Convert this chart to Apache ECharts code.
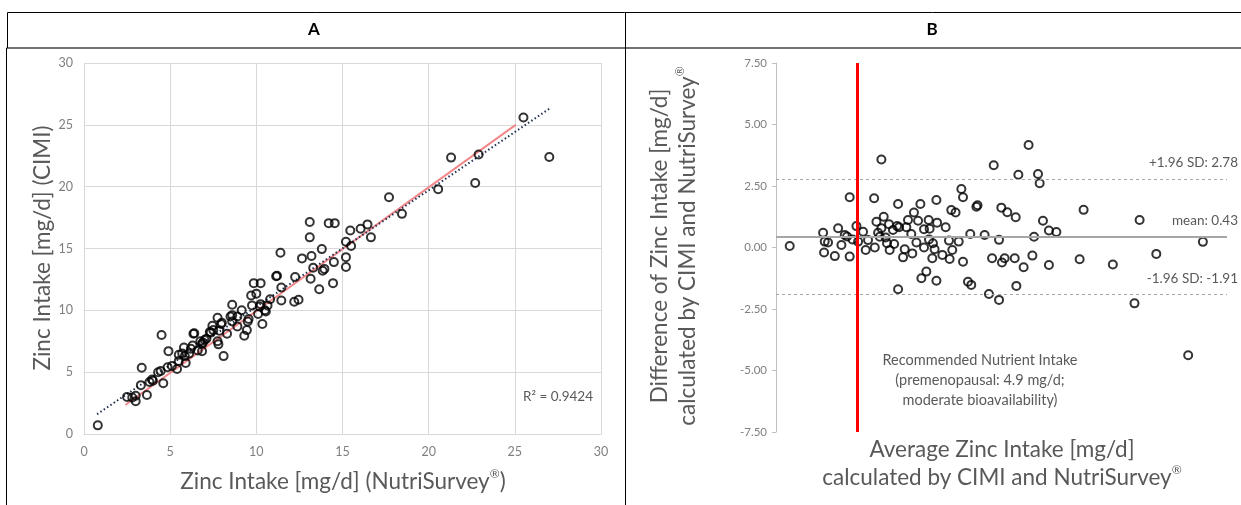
<!DOCTYPE html>
<html>
<head>
<meta charset="utf-8">
<script src="https://cdn.jsdelivr.net/npm/echarts@6/dist/echarts.min.js"></script>
<style>
  html, body { margin: 0; padding: 0; background: #fff; }
  #chart { width: 1241px; height: 505px; }
</style>
</head>
<body>
<div id="chart"></div>
<script>
// Panel A: zinc intake NutriSurvey (x) vs CIMI (y), mg/d
const nutriA = [0.8, 2.5, 2.8, 3.0, 3.0, 3.3, 3.35, 3.65, 3.8, 3.95, 4.0, 4.3, 4.45, 4.5, 4.6, 4.85, 4.9, 5.1, 5.4, 5.5,
  5.5, 5.7, 5.8, 5.85, 5.9, 6.1, 6.2, 6.3, 6.35, 6.4, 6.6, 6.75, 6.85, 6.85, 6.9, 7.0, 7.1, 7.3, 7.35, 7.45,
  7.5, 7.75, 7.75, 7.8, 7.85, 7.95, 8.0, 8.1, 8.3, 8.5, 8.6, 8.6, 8.6, 8.9, 8.9, 9.15, 9.3, 9.45, 9.5, 9.55,
  9.7, 9.75, 9.85, 10.0, 10.1, 10.2, 10.25, 10.25, 10.35, 10.5, 10.55, 10.65, 10.8, 11.15, 11.2, 11.4, 11.45, 11.45, 12.2, 12.45,
  12.25, 12.65, 13.1, 13.1, 13.15, 13.2, 13.3, 13.65, 13.8, 13.85, 13.95, 14.2, 14.45, 14.5, 14.55, 15.2, 15.2, 15.2, 15.45, 15.5,
  16.05, 16.45, 16.65, 17.7, 18.45, 20.55, 21.3, 22.7, 22.9, 25.5, 27.0];
const cimiA = [0.7, 3.0, 2.95, 2.65, 3.1, 3.95, 5.35, 3.15, 4.2, 4.4, 4.3, 5.0, 5.1, 8.0, 4.1, 5.4, 6.7, 5.5, 5.25, 6.4,
  5.9, 6.5, 7.0, 6.3, 5.75, 6.5, 6.9, 7.15, 8.1, 8.15, 6.75, 7.5, 7.3, 6.7, 7.4, 7.6, 7.7, 8.25, 8.2, 8.75,
  8.4, 9.4, 7.5, 7.25, 8.35, 8.9, 9.0, 6.3, 8.1, 9.5, 10.45, 9.1, 9.6, 8.7, 9.5, 10.0, 7.95, 8.4, 9.1, 9.3,
  11.2, 10.4, 12.2, 11.35, 9.7, 10.3, 12.2, 10.5, 8.9, 10.0, 9.9, 10.4, 10.9, 12.75, 12.8, 14.65, 11.85, 10.8, 10.7, 10.85,
  12.7, 14.2, 17.15, 15.9, 12.55, 14.4, 13.45, 11.7, 14.95, 13.2, 13.35, 17.05, 12.2, 13.9, 17.05, 13.5, 14.3, 15.55, 16.45, 15.2,
  16.6, 16.95, 15.9, 19.15, 17.8, 19.8, 22.35, 20.3, 22.6, 25.6, 22.4];
// trend lines (end points)
const fitLineA = [[0.76, 1.6], [27.0, 26.3]];
const redLineA = [[2.4, 2.35], [25.05, 25.0]];
const r2Text = 'R\u00b2 = 0.9424';

// Panel B: Bland-Altman, average (x) vs difference (y)
const avgB = [0.83, 2.85, 2.95, 3.15, 2.91, 3.56, 3.76, 3.96, 4.16, 4.3, 4.46, 4.46, 4.63, 4.87, 4.97, 5.27, 5.43, 5.57, 5.94, 5.98,
  6.08, 6.18, 6.28, 6.38, 6.38, 6.52, 6.64, 6.72, 6.84, 6.88, 7.08, 7.15, 7.33, 7.39, 7.45, 7.39, 7.79, 7.69, 7.89, 7.99,
  8.19, 8.25, 8.35, 8.5, 8.6, 8.74, 8.8, 9.1, 8.96, 8.96, 9.24, 9.3, 9.26, 9.5, 9.46, 9.6, 9.71, 9.71, 9.75, 10.07,
  10.27, 10.47, 10.51, 10.67, 10.61, 10.87, 11.06, 11.22, 11.32, 11.32, 11.62, 11.82, 11.76, 12.13, 12.2, 12.63, 13.18, 12.89, 13.08, 13.5,
  13.5, 13.64, 13.68, 13.84, 14.0, 14.45, 14.51, 14.55, 14.67, 14.99, 15.29, 15.52, 15.62, 15.86, 15.96, 16.16, 16.52, 16.52, 16.97, 18.38,
  18.62, 20.39, 21.7, 22.01, 23.02, 24.95, 25.84];
const diffB = [0.06, 0.6, 0.24, 0.2, -0.2, -0.35, 0.78, 0.1, 0.51, 0.45, 2.04, -0.37, 0.33, 0.87, 0.24, 0.64, -0.1, 0.3, 2.0, 0.0,
  1.05, 0.6, 0.44, 3.58, 0.78, 1.25, 0.41, 0.17, 0.95, -0.1, 0.71, 0.14, 0.87, 1.77, 0.82, -1.7, -0.07, -0.4, 0.82, 1.12,
  0.55, -0.24, 1.42, 0.2, 1.09, 1.77, -1.25, -0.98, 0.0, 0.74, 1.12, 0.76, 0.33, 0.17, -0.44, -0.07, 1.93, -1.35, 1.01, -0.3,
  0.82, 0.28, -0.47, -0.1, 1.52, 1.42, 0.24, 2.38, 2.04, -0.58, -1.39, -1.52, 0.55, 1.66, 1.72, 0.51, 3.34, -1.89, -0.44, 0.31,
  -2.13, 1.62, -0.61, -0.44, 1.43, -0.44, 1.23, -1.56, 2.96, -0.8, 4.17, -0.33, 0.44, 2.99, 2.61, 1.09, 0.69, -0.71, 0.63, -0.48,
  1.53, -0.69, -2.27, 1.12, -0.26, -4.38, 0.23];
const meanDiff = 0.43;
const upperLoA = 2.78;
const lowerLoA = -1.91;
const rniValue = 4.9;
const avgMaxB = 27.3;

const FONT = 'Lato';
const GRAY_TXT = '#595959';
const TICK_TXT = '#7f7f7f';

let EChart = echarts.init(document.getElementById('chart'));

let ptsA = nutriA.map((x, i) => [x, cimiA[i]]);
let ptsB = avgB.map((x, i) => [x, diffB[i]]);

let circleStyle = {
  color: 'rgba(0,0,0,0)',
  borderColor: '#000',
  borderWidth: 2
};

// rich styles for axis titles with a small raised ®
let titleRich = {
  a: { fontSize: 22.5, fontFamily: FONT, fill: GRAY_TXT, lineHeight: 28 },
  s: { fontSize: 12, fontFamily: FONT, fill: GRAY_TXT, lineHeight: 15, verticalAlign: 'top' }
};

let option = {
  backgroundColor: '#fff',
  animation: false,
  textStyle: { fontFamily: FONT },
  grid: [
    { left: 84, top: 63, width: 517, height: 371 },   // A
    { left: 776, top: 63, width: 451, height: 369 }   // B
  ],
  xAxis: [
    {
      gridIndex: 0, type: 'value', min: 0, max: 30, interval: 5,
      axisLine: { show: true, lineStyle: { color: '#d9d9d9' } },
      axisTick: { show: false },
      axisLabel: { color: TICK_TXT, fontSize: 12.5, margin: 11, fontFamily: FONT },
      splitLine: { show: true, lineStyle: { color: '#d9d9d9' } }
    },
    {
      gridIndex: 1, type: 'value', min: 0, max: avgMaxB,
      axisLine: { show: false }, axisTick: { show: false },
      axisLabel: { show: false }, splitLine: { show: false }
    }
  ],
  yAxis: [
    {
      gridIndex: 0, type: 'value', min: 0, max: 30, interval: 5,
      axisLine: { show: false },
      axisTick: { show: false },
      axisLabel: { color: TICK_TXT, fontSize: 12.5, margin: 11, fontFamily: FONT },
      splitLine: { show: true, lineStyle: { color: '#d9d9d9' } }
    },
    {
      gridIndex: 1, type: 'value', min: -7.5, max: 7.5, interval: 2.5,
      axisLine: { show: true, lineStyle: { color: '#bfbfbf' } },
      axisTick: { show: true, length: 4, lineStyle: { color: '#bfbfbf' } },
      axisLabel: {
        color: TICK_TXT, fontSize: 11.5, margin: 9, fontFamily: FONT,
        formatter: v => v.toFixed(2)
      },
      splitLine: { show: false }
    }
  ],
  series: [
    {
      type: 'line', xAxisIndex: 0, yAxisIndex: 0,
      data: redLineA, symbol: 'none', silent: true,
      lineStyle: { color: '#f4878a', width: 2 }, z: 1
    },
    {
      type: 'line', xAxisIndex: 0, yAxisIndex: 0,
      data: fitLineA, symbol: 'none', silent: true,
      lineStyle: { color: '#1f3050', width: 2, type: [1.5, 2.5] }, z: 1
    },
    {
      type: 'scatter', xAxisIndex: 0, yAxisIndex: 0,
      data: ptsA, symbol: 'circle', symbolSize: 8,
      itemStyle: circleStyle, z: 3
    },
    {
      type: 'scatter', xAxisIndex: 1, yAxisIndex: 1,
      data: ptsB, symbol: 'circle', symbolSize: 8,
      itemStyle: circleStyle, z: 3,
      markLine: {
        silent: true, symbol: 'none', animation: false,
        label: { show: false },
        data: [
          { yAxis: upperLoA, lineStyle: { color: '#a6a6a6', type: [3, 3], width: 1 } },
          { yAxis: meanDiff, lineStyle: { color: '#a6a6a6', type: 'solid', width: 2 } },
          { yAxis: lowerLoA, lineStyle: { color: '#a6a6a6', type: [3, 3], width: 1 } },
          { xAxis: rniValue, lineStyle: { color: '#ff0000', type: 'solid', width: 3 } }
        ]
      }
    }
  ],
  graphic: [
    // table frame
    { type: 'line', shape: { x1: 7.5, y1: 12.5, x2: 1241, y2: 12.5 }, style: { stroke: '#000', lineWidth: 1 } },
    { type: 'line', shape: { x1: 6.5, y1: 48, x2: 1241, y2: 48 }, style: { stroke: '#444', lineWidth: 1.5 } },
    { type: 'line', shape: { x1: 7.5, y1: 12.5, x2: 7.5, y2: 48 }, style: { stroke: '#000', lineWidth: 1 } },
    { type: 'line', shape: { x1: 6.5, y1: 48, x2: 6.5, y2: 505 }, style: { stroke: '#000', lineWidth: 1 } },
    { type: 'line', shape: { x1: 625.5, y1: 12.5, x2: 625.5, y2: 505 }, style: { stroke: '#000', lineWidth: 1 } },
    // headers
    { type: 'text', x: 314, y: 30, style: { text: 'A', font: 'bold 17px ' + FONT, fill: '#000', textAlign: 'center', textVerticalAlign: 'middle' } },
    { type: 'text', x: 932, y: 30, style: { text: 'B', font: 'bold 17px ' + FONT, fill: '#000', textAlign: 'center', textVerticalAlign: 'middle' } },
    // panel A titles
    { type: 'text', x: 343, y: 482, style: { text: '{a|Zinc Intake [mg/d] (NutriSurvey}{s|®}{a|)}', rich: titleRich, textAlign: 'center', textVerticalAlign: 'middle' } },
    { type: 'text', x: 43, y: 248, rotation: Math.PI / 2, style: { text: '{a|Zinc Intake [mg/d] (CIMI)}', rich: titleRich, textAlign: 'center', textVerticalAlign: 'middle' } },
    { type: 'text', x: 593, y: 397, style: { text: r2Text, font: '13.5px ' + FONT, fill: GRAY_TXT, textAlign: 'right', textVerticalAlign: 'middle' } },
    // panel B titles
    { type: 'text', x: 1002, y: 464, style: { text: '{a|Average Zinc Intake [mg/d]}\n{a|calculated by CIMI and NutriSurvey}{s|®}', rich: titleRich, textAlign: 'center', textVerticalAlign: 'middle' } },
    { type: 'text', x: 674, y: 246, rotation: Math.PI / 2, style: { text: '{a|Difference of Zinc Intake [mg/d]}\n{a|calculated by CIMI and NutriSurvey}{s|®}', rich: titleRich, textAlign: 'center', textVerticalAlign: 'middle' } },
    { type: 'text', x: 980, y: 380, style: { text: 'Recommended Nutrient Intake\n(premenopausal: 4.9 mg/d;\nmoderate bioavailability)', font: '14.5px ' + FONT, lineHeight: 20, fill: GRAY_TXT, textAlign: 'center', textVerticalAlign: 'middle' } }
  ]
};
EChart.setOption(option);

// limits-of-agreement labels, placed from the axis scale, a little past the line end
let loaLabels = [
  ['+1.96 SD: ', upperLoA],
  ['mean: ', meanDiff],
  ['-1.96 SD: ', lowerLoA]
].map(([t, v]) => {
  let p = EChart.convertToPixel({ xAxisIndex: 1, yAxisIndex: 1 }, [avgMaxB, v]);
  return {
    type: 'text', x: p[0] + 11, y: p[1] - 16,
    style: { text: t + v.toFixed(2), font: '13.5px ' + FONT, fill: GRAY_TXT, textAlign: 'right', textVerticalAlign: 'middle' }
  };
});
EChart.setOption({ graphic: option.graphic.concat(loaLabels) });
</script>
</body>
</html>
